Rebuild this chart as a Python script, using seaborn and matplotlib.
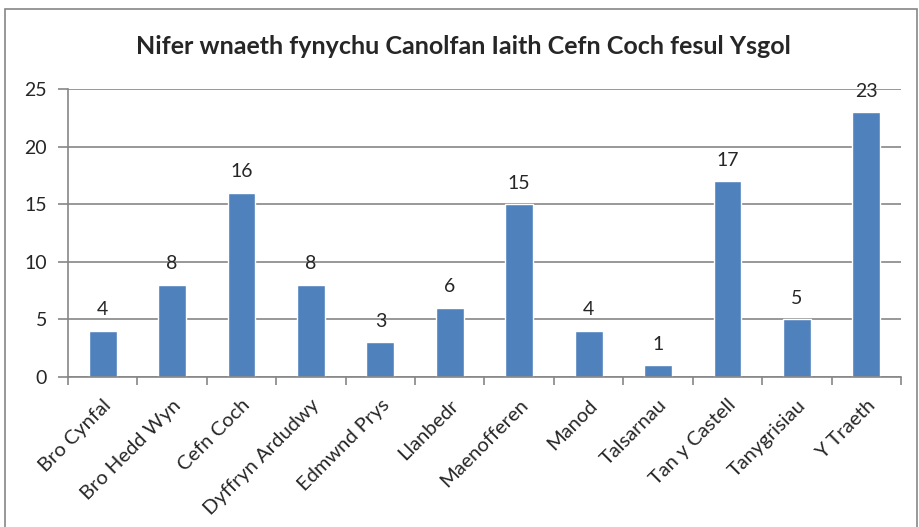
import numpy as np
import pandas as pd
import matplotlib
matplotlib.use("Agg")
import matplotlib.pyplot as plt
import seaborn as sns
from matplotlib.patches import Rectangle

# data
schools = ['Bro Cynfal', 'Bro Hedd Wyn', 'Cefn Coch', 'Dyffryn Ardudwy', 'Edmwnd Prys',
           'Llanbedr', 'Maenofferen', 'Manod', 'Talsarnau', 'Tan y Castell',
           'Tanygrisiau', 'Y Traeth']
counts = [4, 8, 16, 8, 3, 6, 15, 4, 1, 17, 5, 23]
yticks = [0, 5, 10, 15, 20, 25]
title = 'Nifer wnaeth fynychu Canolfan Iaith Cefn Coch fesul Ysgol'

df = pd.DataFrame({'school': schools, 'count': counts})

sns.set_style("white")
plt.rcParams['font.family'] = ['Lato', 'DejaVu Sans']

W, H = 919, 527
fig = plt.figure(figsize=(W / 100, H / 100), dpi=100)
grey = '#868686'

#outer chart border like excel
fig.patches.append(Rectangle((5 / W, -0.05), (917 - 5) / W, (H - 9) / H + 0.05,
                             transform=fig.transFigure, fill=False,
                             edgecolor=grey, linewidth=1.2))

ax = fig.add_axes([68 / W, (H - 377) / H, (901 - 68) / W, (377 - 89) / H])
sns.barplot(data=df, x='school', y='count', color='#4F81BD', width=0.4,
            saturation=1, ax=ax)

ax.set_ylim(0, 25)
ax.set_xlim(-0.5, len(schools) - 0.5)
ax.set_yticks(yticks)
ax.yaxis.grid(True, color=grey, linewidth=1.2)
ax.set_axisbelow(True)
ax.set_xlabel('')
ax.set_ylabel('')

for side in ['top', 'right']:
    ax.spines[side].set_visible(False)
for side in ['left', 'bottom']:
    ax.spines[side].set_color(grey)
    ax.spines[side].set_linewidth(1.2)

ax.tick_params(axis='y', length=7, width=1.2, color=grey, labelsize=14, pad=8,
               left=True)
ax.set_xticks(np.arange(len(schools)))
ax.set_xticklabels(schools, rotation=45, ha='right', rotation_mode='anchor',
                   fontsize=14.5)
ax.tick_params(axis='x', which='major', length=0, pad=14)
ax.set_xticks(np.arange(len(schools) + 1) - 0.5, minor=True)
ax.tick_params(axis='x', which='minor', length=6, width=1.2, color=grey, bottom=True)

ax.bar_label(ax.containers[0], padding=9, fontsize=14)

fig.text(463 / W, 1 - 46 / H, title, ha='center', va='center',
         fontsize=18, fontweight='bold')

fig.savefig('out.png', dpi=100)
